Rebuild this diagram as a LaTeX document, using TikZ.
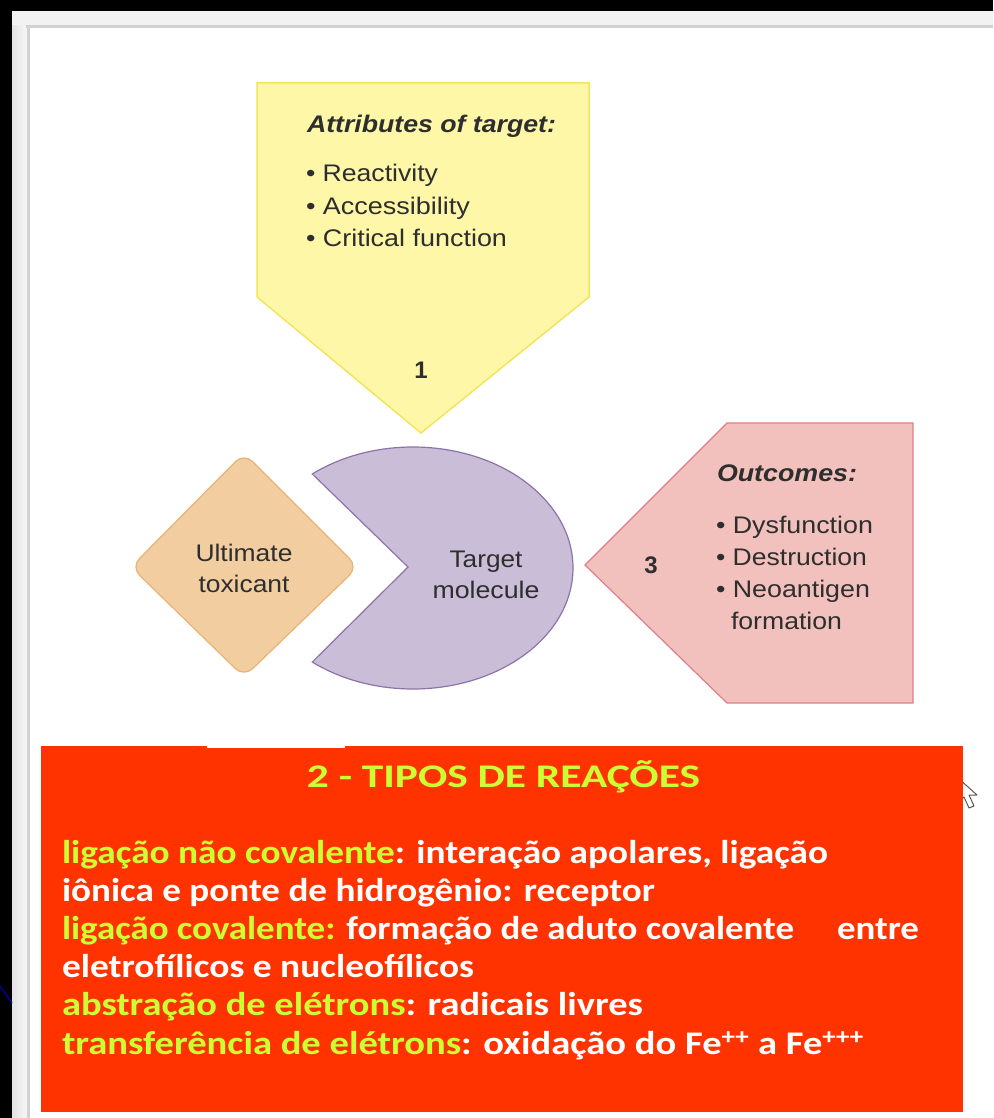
\documentclass[tikz,border=0pt]{standalone}
\usepackage{graphicx}
\usepackage{fontspec}
\setmainfont{Liberation Sans}
\newfontfamily\comicfont{Carlito}
\usetikzlibrary{calc}
\definecolor{ybox}{HTML}{FFF7A8}
\definecolor{yline}{HTML}{F3E45C}
\definecolor{obox}{HTML}{F2CDA0}
\definecolor{oline}{HTML}{E8B474}
\definecolor{pbox}{HTML}{C9BDD7}
\definecolor{pline}{HTML}{8C74AA}
\definecolor{rbox}{HTML}{F2C1BD}
\definecolor{rline}{HTML}{DE7E88}
\definecolor{redbg}{HTML}{FF3300}
\definecolor{lime}{HTML}{CCFF33}
\definecolor{txt}{HTML}{2E2E2E}
\newcommand\fitw[2]{\resizebox{#1pt}{\height}{#2}}
\tikzset{
  lab/.style={inner sep=0pt, outer sep=0pt, text=txt, font=\fontsize{24}{28}\selectfont},
  rtxt/.style={inner sep=0pt, outer sep=0pt, anchor=base west, text=white, font=\comicfont\bfseries\fontsize{33}{38}\selectfont},
  yshape/.style={fill=ybox, draw=yline, line width=1.5pt},
  oshape/.style={fill=obox, draw=oline, line width=1.2pt, rounded corners=12pt},
  pshape/.style={fill=pbox, draw=pline, line width=1.2pt},
  rshape/.style={fill=rbox, draw=rline, line width=1.2pt}
}
\begin{document}
\begin{tikzpicture}[x=1pt,y=-1pt]
\useasboundingbox (0,0) rectangle (993,1118);
% frame
\fill[black] (0,0) rectangle (993,1118);
\fill[gray!10] (12,11) rectangle (993,1118);
\shade[left color=gray!22, right color=gray!6] (12,26) rectangle (28,1118);
\fill[gray!35] (26,25) rectangle (993,28);
\fill[gray!35] (27,25) rectangle (30,1118);
\fill[white] (30,28) rectangle (993,1118);
\draw[blue!80!black, line width=1pt] (0,986) -- (12,1003);
% yellow pentagon
\draw[yshape] (257,83) -- (589,83) -- (589,297) -- (421,433) -- (257,297) -- cycle;
\node[lab, anchor=base west] (attr) at (307,133) {\fitw{249}{\bfseries\itshape Attributes of target:}};
\node[lab, anchor=base west] (b1) at (306,182) {\fitw{132}{• Reactivity}};
\node[lab, anchor=base west] (b2) at (306,214) {\fitw{164}{• Accessibility}};
\node[lab, anchor=base west] (b3) at (306,246) {\fitw{201}{• Critical function}};
\node[lab, anchor=base] (n1) at (421,378) {\bfseries 1};
% diamond
\draw[oshape] (131,567) -- (244,453) -- (358,567) -- (244,677) -- cycle;
\node[lab, anchor=base] (ut1) at (244,561) {\fitw{97}{Ultimate}};
\node[lab, anchor=base] (ut2) at (244,592) {\fitw{91}{toxicant}};
% pacman
\draw[pshape] (408,567) -- ($(413,568)+(-129:160 and 121)$) arc[start angle=-129, end angle=129, x radius=160, y radius=121] -- cycle;
\node[lab, anchor=base] (tm1) at (486,567) {\fitw{73}{Target}};
\node[lab, anchor=base] (tm2) at (486,598) {\fitw{107}{molecule}};
% pink pentagon
\draw[rshape] (585,565) -- (727,423) -- (913,423) -- (913,703) -- (727,703) -- cycle;
\node[lab, anchor=base west] (out) at (717,481) {\fitw{140}{\bfseries\itshape Outcomes:}};
\node[lab, anchor=base west] (o1) at (716,533) {\fitw{157}{• Dysfunction}};
\node[lab, anchor=base west] (o2) at (716,565) {\fitw{151}{• Destruction}};
\node[lab, anchor=base west] (o3) at (716,597) {\fitw{154}{• Neoantigen}};
\node[lab, anchor=base west] (o4) at (731,629) {\fitw{111}{formation}};
\node[lab, anchor=base] (n3) at (651,573) {\bfseries 3};
% cursor
\draw[gray!70!black, fill=white, line width=1pt, line join=round] (958,778) -- (958,802) -- (964,797) -- (969,808) -- (974,806) -- (969,795) -- (977,795) -- cycle;
% red box
\fill[redbg] (41,746) rectangle (963,1112);
\fill[white] (207,743) rectangle (345,748);
\node[rtxt, anchor=base, text=lime] (title) at (503.5,787) {\fitw{393}{2 - TIPOS DE REAÇÕES}};
\node[rtxt] (l1) at (62,863) {\fitw{766}{\textcolor{lime}{ligação não covalente}: interação apolares, ligação}};
\node[rtxt] (l2) at (62,901) {\fitw{593}{iônica e ponte de hidrogênio: receptor}};
\node[rtxt] (l3) at (62,939) {\fitw{732}{\textcolor{lime}{ligação covalente:} formação de aduto covalente}};
\node[rtxt] (l3b) at (837,939) {\fitw{82}{entre}};
\node[rtxt] (l4) at (62,977) {\fitw{412}{eletrofílicos e nucleofílicos}};
\node[rtxt] (l5) at (62,1015) {\fitw{581}{\textcolor{lime}{abstração de elétrons}: radicais livres}};
\node[rtxt] (l6) at (62,1054) {\fitw{802}{\textcolor{lime}{transferência de elétrons}: oxidação do Fe\textsuperscript{++} a Fe\textsuperscript{+++}}};
\end{tikzpicture}
\end{document}
